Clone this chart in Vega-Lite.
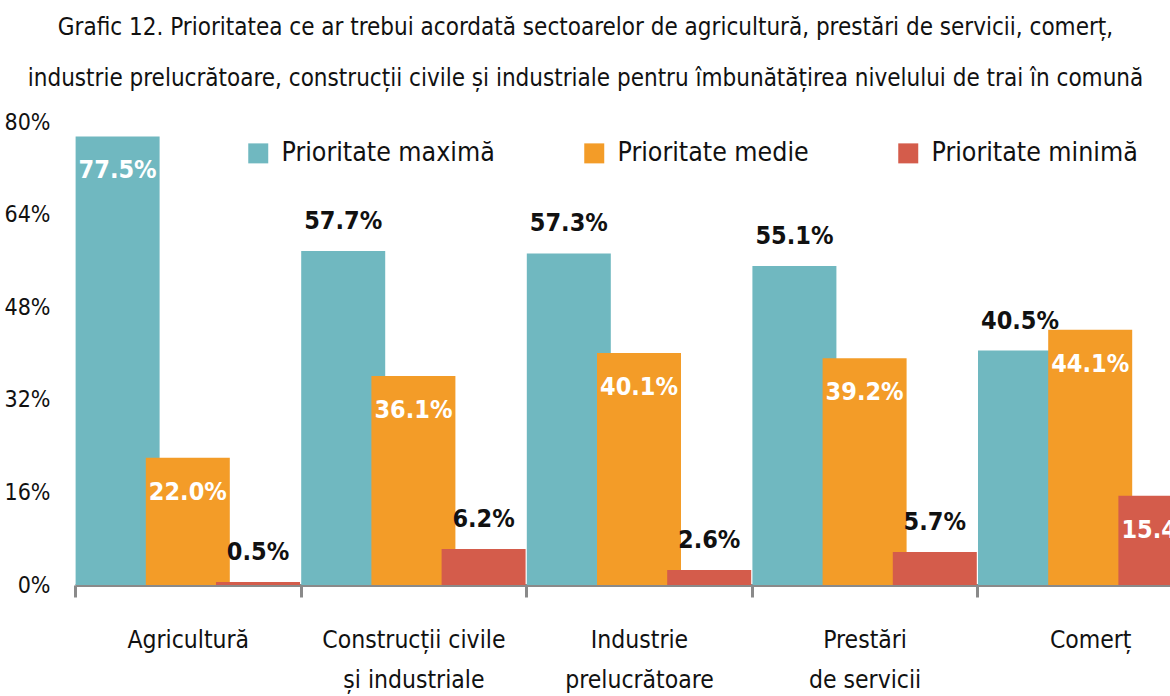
{
  "$schema": "https://vega.github.io/schema/vega-lite/v6.json",
  "autosize": {"type": "none"},
  "padding": {"left": 75, "top": 122, "right": 0, "bottom": 111},
  "width": 1095,
  "height": 463,
  "background": "white",
  "config": {
    "view": {"stroke": null},
    "font": "DejaVu Sans Condensed, Roboto, sans-serif",
    "axis": {"labelFont": "DejaVu Sans Condensed, Roboto, sans-serif", "labelColor": "#111"},
    "legend": {"labelFont": "DejaVu Sans Condensed, Roboto, sans-serif"},
    "title": {"font": "DejaVu Sans Condensed, Roboto, sans-serif"}
  },
  "title": {
    "text": ["Grafic 12. Prioritatea ce ar trebui acordată sectoarelor de agricultură, prestări de servicii, comerț,", "industrie prelucrătoare, construcții civile și industriale pentru îmbunătățirea nivelului de trai în comună"],
    "fontSize": 24,
    "fontWeight": "normal",
    "lineHeight": 51,
    "color": "#111",
    "anchor": "middle",
    "dx": -37,
    "offset": 20
  },
  "data": {
    "values": [
      {"group": "Agricultură", "cat": "Prioritate maximă", "v": 0.775},
      {"group": "Agricultură", "cat": "Prioritate medie", "v": 0.220},
      {"group": "Agricultură", "cat": "Prioritate minimă", "v": 0.005},
      {"group": "Construcții civile și industriale", "cat": "Prioritate maximă", "v": 0.577},
      {"group": "Construcții civile și industriale", "cat": "Prioritate medie", "v": 0.361},
      {"group": "Construcții civile și industriale", "cat": "Prioritate minimă", "v": 0.062},
      {"group": "Industrie prelucrătoare", "cat": "Prioritate maximă", "v": 0.573},
      {"group": "Industrie prelucrătoare", "cat": "Prioritate medie", "v": 0.401},
      {"group": "Industrie prelucrătoare", "cat": "Prioritate minimă", "v": 0.026},
      {"group": "Prestări de servicii", "cat": "Prioritate maximă", "v": 0.551},
      {"group": "Prestări de servicii", "cat": "Prioritate medie", "v": 0.392},
      {"group": "Prestări de servicii", "cat": "Prioritate minimă", "v": 0.057},
      {"group": "Comerț", "cat": "Prioritate maximă", "v": 0.405},
      {"group": "Comerț", "cat": "Prioritate medie", "v": 0.441},
      {"group": "Comerț", "cat": "Prioritate minimă", "v": 0.154}
    ]
  },
  "encoding": {
    "x": {
      "field": "group",
      "type": "nominal",
      "sort": null,
      "title": null,
      "scale": {"range": [0, 1128], "paddingInner": 0, "paddingOuter": 0},
      "axis": {
        "labelAngle": 0,
        "domainColor": "#8a8a8a",
        "domainWidth": 3,
        "tickColor": "#8a8a8a",
        "tickWidth": 3,
        "tickSize": 12,
        "tickBand": "extent",
        "labelFontSize": 24.5,
        "labelLineHeight": 40,
        "labelPadding": 31,
        "labelLimit": 400,
        "labelExpr": "datum.label == 'Construcții civile și industriale' ? ['Construcții civile', 'și industriale'] : datum.label == 'Industrie prelucrătoare' ? ['Industrie', 'prelucrătoare'] : datum.label == 'Prestări de servicii' ? ['Prestări', 'de servicii'] : datum.label"
      }
    },
    "xOffset": {
      "field": "cat",
      "type": "nominal",
      "sort": ["Prioritate maximă", "Prioritate medie", "Prioritate minimă"],
      "scale": {"paddingInner": 0, "paddingOuter": 0.107}
    },
    "y": {
      "field": "v",
      "type": "quantitative",
      "title": null,
      "scale": {"domain": [0, 0.8], "nice": false},
      "axis": {
        "values": [0, 0.16, 0.32, 0.48, 0.64, 0.8],
        "format": ".0%",
        "domain": false,
        "ticks": false,
        "grid": false,
        "labelFontSize": 23,
        "labelPadding": 25
      }
    }
  },
  "layer": [
    {
      "mark": {"type": "bar", "width": 84},
      "encoding": {
        "color": {
          "field": "cat",
          "type": "nominal",
          "sort": ["Prioritate maximă", "Prioritate medie", "Prioritate minimă"],
          "scale": {"domain": ["Prioritate maximă", "Prioritate medie", "Prioritate minimă"], "range": ["#70b8c0", "#f39c28", "#d45c4b"]},
          "legend": {
            "title": null,
            "orient": "none",
            "legendX": 170,
            "legendY": 18,
            "direction": "horizontal",
            "symbolType": "square",
            "symbolSize": 400,
            "symbolStrokeWidth": 0,
            "symbolOpacity": 1,
            "labelFontSize": 26.5,
            "labelColor": "#111",
            "labelOffset": 10,
            "columnPadding": 86,
            "labelLimit": 400
          }
        }
      }
    },
    {
      "transform": [{"filter": "datum.cat == 'Prioritate medie' || datum.v > 0.7 || (datum.cat == 'Prioritate minimă' && datum.v > 0.1)"}],
      "mark": {"type": "text", "fontSize": 25, "fontWeight": "bold", "color": "white", "baseline": "middle", "dy": 34},
      "encoding": {"text": {"field": "v", "type": "quantitative", "format": ".1%"}, "detail": {"field": "cat"}}
    },
    {
      "transform": [{"filter": "!(datum.cat == 'Prioritate medie' || datum.v > 0.7 || (datum.cat == 'Prioritate minimă' && datum.v > 0.1))"}],
      "mark": {"type": "text", "fontSize": 25, "fontWeight": "bold", "color": "#111", "baseline": "middle", "dy": -30},
      "encoding": {"text": {"field": "v", "type": "quantitative", "format": ".1%"}, "detail": {"field": "cat"}}
    }
  ]
}
